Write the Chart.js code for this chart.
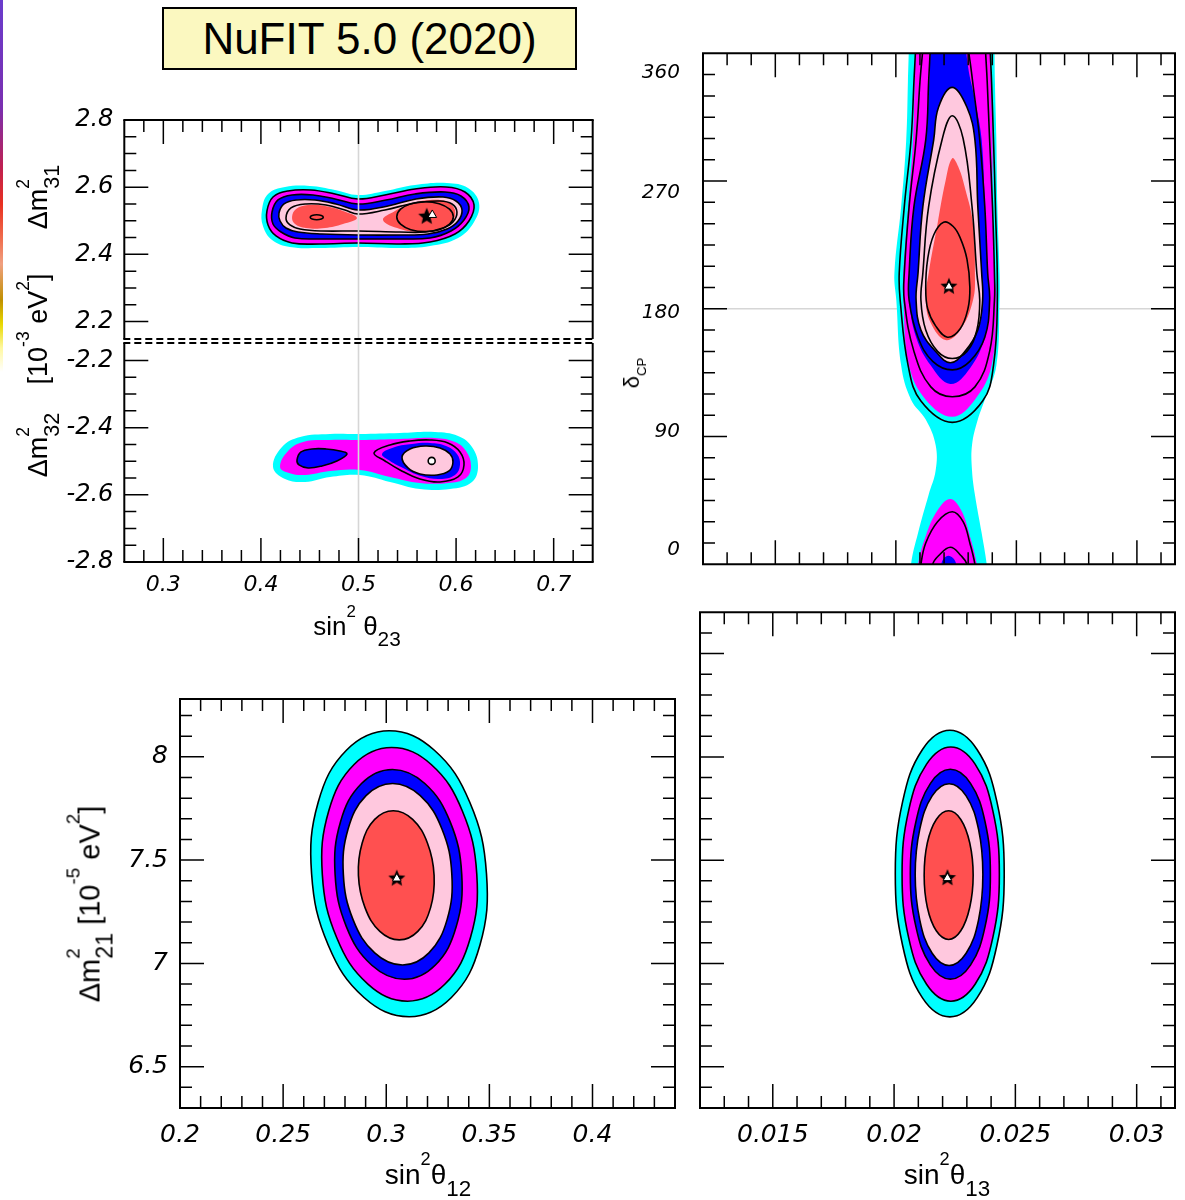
<!DOCTYPE html>
<html>
<head>
<meta charset="utf-8">
<script src="https://cdn.jsdelivr.net/npm/chart.js@4.4.1/dist/chart.umd.min.js"></script>
<style>
  html, body { margin: 0; padding: 0; background: #fff; }
  body { position: relative; width: 1185px; height: 1200px; overflow: hidden;
         font-family: "Liberation Sans", Arial, Helvetica, sans-serif; }
  canvas { position: absolute; left: 0; top: 0; }
  .strip { position: absolute; left: 0; top: 0; width: 3px; height: 1200px;
           background: linear-gradient(to bottom, #6a3ccc 0%, #7a2fb0 9%, #c02050 14%, #e83020 17%,
             #f07050 20%, #f0a080 22%, #c09000 25%, #e8d800 27%, #fff8a0 29%, #fff 31%, #fff 100%); }
  .title { position: absolute; left: 162px; top: 7px; width: 415px; height: 63px; box-sizing: border-box;
           border: 2px solid #000; background: #fbf8c0; font-size: 44px; line-height: 59px; text-align: center; }
  .lab { position: absolute; white-space: nowrap; line-height: 1; transform: translate(-50%, -50%); }
  .lab.v { transform: translate(-50%, -50%) rotate(-90deg); }
  .sp { font-size: .65em; position: relative; top: -1.05em; }
  .sb { font-size: .8em; position: relative; top: .55em; }
  .stk { margin-left: -.45em; }
</style>
</head>
<body>
<div class="strip"></div>
<div class="title">NuFIT 5.0 (2020)</div>
<canvas id="tlu" width="1185" height="1200"></canvas>
<canvas id="tll" width="1185" height="1200"></canvas>
<canvas id="tr" width="1185" height="1200"></canvas>
<canvas id="bl" width="1185" height="1200"></canvas>
<canvas id="br" width="1185" height="1200"></canvas>

<div class="lab v" style="left:38px;top:197px;font-size:27px">Δm<span class="sp">2</span><span class="sb stk">31</span></div>
<div class="lab v" style="left:38px;top:329px;font-size:27px">[10<span class="sp">-3</span> eV<span class="sp">2</span>]</div>
<div class="lab v" style="left:38px;top:445px;font-size:27px">Δm<span class="sp">2</span><span class="sb stk">32</span></div>
<div class="lab" style="left:357px;top:626px;font-size:26px">sin<span class="sp">2</span> θ<span class="sb">23</span></div>
<div class="lab v" style="left:632px;top:373px;font-size:22px">δ<span class="sb" style="font-size:.6em">CP</span></div>
<div class="lab v" style="left:90px;top:904px;font-size:29px">Δm<span class="sp">2</span><span class="sb stk">21</span> [10<span class="sp">-5</span> eV<span class="sp">2</span>]</div>
<div class="lab" style="left:428px;top:1175px;font-size:28px">sin<span class="sp">2</span>θ<span class="sb">12</span></div>
<div class="lab" style="left:947px;top:1175px;font-size:28px">sin<span class="sp">2</span>θ<span class="sb">13</span></div>

<script>
// ---------- data (contour outlines as [x, y] points) ----------

// top left, normal ordering: sin^2 theta23 vs dm2_31
const noCyan = [[0.4011,2.5321],[0.4073,2.5798],[0.4247,2.6006],[0.4503,2.6036],[0.4759,2.5917],[0.4994,2.5768],[0.5271,2.5887],[0.5579,2.6065],[0.5907,2.6125],[0.6122,2.5976],[0.6235,2.5530],[0.6184,2.4964],[0.6020,2.4488],[0.5733,2.4250],[0.5425,2.4190],[0.4994,2.4220],[0.4606,2.4190],[0.4298,2.4220],[0.4114,2.4429],[0.4021,2.4845]];
const noMagenta = [[0.4062,2.5292],[0.4124,2.5708],[0.4278,2.5887],[0.4513,2.5917],[0.4759,2.5798],[0.4994,2.5649],[0.5271,2.5768],[0.5579,2.5946],[0.5897,2.6006],[0.6091,2.5857],[0.6184,2.5470],[0.6132,2.4994],[0.5989,2.4607],[0.5733,2.4369],[0.5425,2.4310],[0.4994,2.4339],[0.4606,2.4310],[0.4319,2.4339],[0.4155,2.4548],[0.4073,2.4875]];
const noBlue = [[0.4114,2.5262],[0.4175,2.5619],[0.4319,2.5768],[0.4534,2.5768],[0.4759,2.5649],[0.4994,2.5500],[0.5282,2.5619],[0.5579,2.5798],[0.5887,2.5857],[0.6050,2.5738],[0.6132,2.5411],[0.6081,2.5024],[0.5948,2.4696],[0.5733,2.4488],[0.5425,2.4458],[0.4994,2.4458],[0.4606,2.4458],[0.4349,2.4488],[0.4206,2.4667],[0.4124,2.4905]];
const noPink = [[0.4185,2.5232],[0.4237,2.5500],[0.4360,2.5619],[0.4554,2.5619],[0.4769,2.5500],[0.4994,2.5321],[0.5302,2.5440],[0.5589,2.5649],[0.5866,2.5708],[0.5999,2.5589],[0.6061,2.5321],[0.6020,2.4994],[0.5907,2.4756],[0.5712,2.4607],[0.5425,2.4577],[0.4994,2.4577],[0.4626,2.4607],[0.4380,2.4667],[0.4257,2.4786],[0.4196,2.4994]];
const noRedLeft = [[0.4319,2.5113],[0.4360,2.5351],[0.4483,2.5470],[0.4657,2.5440],[0.4841,2.5292],[0.4984,2.5083],[0.4841,2.4905],[0.4657,2.4786],[0.4462,2.4786],[0.4349,2.4905]];
const noRedRight = [[0.5251,2.5024],[0.5374,2.5292],[0.5528,2.5500],[0.5733,2.5619],[0.5907,2.5560],[0.5989,2.5321],[0.5958,2.4964],[0.5835,2.4726],[0.5630,2.4667],[0.5425,2.4756]];
const noLineBoth = [[0.4257,2.5083],[0.4308,2.5381],[0.4462,2.5500],[0.4667,2.5470],[0.4861,2.5321],[0.4994,2.5202],[0.5271,2.5321],[0.5579,2.5530],[0.5835,2.5589],[0.5958,2.5500],[0.6009,2.5262],[0.5968,2.4964],[0.5866,2.4786],[0.5682,2.4667],[0.5425,2.4667],[0.4994,2.4696],[0.4626,2.4696],[0.4401,2.4756],[0.4298,2.4875]];
const noLineBest = [[0.5972,2.5122],[0.5933,2.5345],[0.5827,2.5509],[0.5682,2.5568],[0.5536,2.5509],[0.5431,2.5345],[0.5392,2.5122],[0.5431,2.4899],[0.5536,2.4735],[0.5682,2.4676],[0.5827,2.4735],[0.5933,2.4899]];
const noLineLocal = [[0.4639,2.5104],[0.4619,2.5156],[0.4572,2.5178],[0.4525,2.5156],[0.4505,2.5104],[0.4525,2.5052],[0.4572,2.5030],[0.4619,2.5052]];
const noBestStar = [0.5699, 2.5122];
const noBestTri = [0.5756, 2.5173];

// top left, inverted ordering: sin^2 theta23 vs dm2_32
const ioCyan = [[0.4124,-2.5171],[0.4216,-2.4575],[0.4401,-2.4277],[0.4708,-2.4188],[0.5015,-2.4188],[0.5425,-2.4159],[0.5784,-2.4129],[0.6020,-2.4248],[0.6163,-2.4575],[0.6225,-2.5141],[0.6163,-2.5617],[0.5938,-2.5826],[0.5630,-2.5826],[0.5323,-2.5617],[0.5015,-2.5409],[0.4708,-2.5468],[0.4452,-2.5617],[0.4247,-2.5528]];
const ioMagenta = [[0.4196,-2.5171],[0.4278,-2.4694],[0.4432,-2.4426],[0.4708,-2.4367],[0.5015,-2.4367],[0.5425,-2.4337],[0.5784,-2.4307],[0.5989,-2.4426],[0.6102,-2.4694],[0.6153,-2.5141],[0.6102,-2.5498],[0.5917,-2.5647],[0.5630,-2.5647],[0.5323,-2.5468],[0.5015,-2.5260],[0.4708,-2.5290],[0.4452,-2.5409],[0.4288,-2.5349]];
const ioBlueLeft = [[0.4370,-2.4962],[0.4411,-2.4724],[0.4524,-2.4635],[0.4667,-2.4635],[0.4810,-2.4694],[0.4882,-2.4784],[0.4779,-2.4992],[0.4626,-2.5141],[0.4483,-2.5200],[0.4390,-2.5111]];
const ioLineRight = [[0.5159,-2.4754],[0.5323,-2.4516],[0.5528,-2.4397],[0.5733,-2.4367],[0.5917,-2.4456],[0.6040,-2.4724],[0.6081,-2.5111],[0.6020,-2.5468],[0.5835,-2.5617],[0.5630,-2.5528],[0.5425,-2.5260],[0.5272,-2.4992]];
const ioBlueRight = [[0.5241,-2.4784],[0.5374,-2.4575],[0.5548,-2.4486],[0.5733,-2.4456],[0.5897,-2.4546],[0.6009,-2.4784],[0.6040,-2.5111],[0.5989,-2.5409],[0.5835,-2.5528],[0.5640,-2.5439],[0.5456,-2.5200],[0.5323,-2.4992]];
const ioPinkRight = [[0.5446,-2.4873],[0.5528,-2.4635],[0.5682,-2.4546],[0.5835,-2.4605],[0.5938,-2.4784],[0.5968,-2.5022],[0.5928,-2.5290],[0.5805,-2.5409],[0.5630,-2.5379],[0.5507,-2.5200]];
const ioLocalMin = [0.5750, -2.499];

// top right: sin^2 theta13 vs delta_CP (outlines continue past 0 and 360)
const dcpCyan = [[0.02055,420],[0.02409,420],[0.02409,375],[0.02411,340],[0.02417,299],[0.02421,252],[0.0243,205],[0.0243,186],[0.02417,140],[0.02369,116],[0.0234,102],[0.02316,84],[0.02316,66],[0.02328,49],[0.02356,22],[0.02377,0],[0.02385,-15],[0.02385,-60],[0.02055,-60],[0.02063,-15],[0.02063,0],[0.02092,22],[0.02136,49],[0.02165,66],[0.02165,84],[0.02124,102],[0.02063,116],[0.02022,140],[0.02002,186],[0.01994,205],[0.02022,252],[0.02043,299],[0.0205,340],[0.02055,375]];
const dcpMagentaUp = [[0.02084,420],[0.02389,420],[0.02389,375],[0.02395,340],[0.02401,299],[0.02401,252],[0.02409,205],[0.02417,186],[0.02397,140],[0.02328,116],[0.02234,104],[0.02124,116],[0.02055,140],[0.02031,186],[0.02031,205],[0.02051,252],[0.02071,299],[0.02078,340],[0.02084,375]];
const dcpMagentaLow = [[0.02226,46],[0.02271,38],[0.02307,20],[0.02336,0],[0.02345,-15],[0.02345,-60],[0.02084,-60],[0.02084,-15],[0.02092,0],[0.02124,20],[0.02173,38]];
const dcpBlueUp = [[0.02145,420],[0.02287,420],[0.02287,375],[0.023,350],[0.02328,327],[0.02356,299],[0.02369,252],[0.02381,205],[0.02389,186],[0.02369,160],[0.02307,138],[0.02226,127],[0.02145,140],[0.02084,160],[0.02055,186],[0.02055,205],[0.02075,252],[0.02124,299],[0.02136,330],[0.02145,375]];
const dcpBlueLow = [[0.02218,6],[0.0225,0],[0.02255,-60],[0.02185,-60],[0.02189,0]];
const dcpPink = [[0.02234,336],[0.02295,322],[0.02328,299],[0.0234,252],[0.02356,205],[0.0236,186],[0.0234,165],[0.02287,150],[0.02226,142],[0.02165,150],[0.02104,165],[0.02084,186],[0.02092,205],[0.02112,252],[0.02157,299],[0.02177,322]];
const dcpRed = [[0.02234,286],[0.02259,280],[0.02287,265],[0.0232,240],[0.02328,205],[0.0232,186],[0.02267,165],[0.02206,158],[0.02145,170],[0.02124,186],[0.02136,205],[0.02173,240],[0.02206,270]];
const dcpLine1 = [[0.02084,420],[0.02389,420],[0.02389,375],[0.02397,340],[0.02405,299],[0.02413,252],[0.02421,186],[0.02405,140],[0.0236,115],[0.02234,100],[0.02104,115],[0.02051,140],[0.02018,186],[0.02014,205],[0.02035,252],[0.02063,299],[0.02075,340],[0.02084,375]];
const dcpLine1Low = [[0.02234,37],[0.02279,30],[0.02307,15],[0.02328,0],[0.02336,-15],[0.02336,-60],[0.02096,-60],[0.02096,-15],[0.02104,0],[0.02124,15],[0.02173,30]];
const dcpLine2 = [[0.02116,420],[0.02369,420],[0.02369,375],[0.02379,340],[0.02389,299],[0.02401,252],[0.02409,205],[0.02409,186],[0.02389,150],[0.02328,125],[0.02234,118],[0.02145,125],[0.02075,150],[0.02035,186],[0.02035,205],[0.02055,252],[0.02084,299],[0.021,340],[0.02116,375]];
const dcpLine2Low = [[0.02226,12],[0.02271,6],[0.02295,0],[0.02307,-15],[0.02307,-60],[0.02145,-60],[0.02145,-15],[0.02153,0],[0.02177,6]];
const dcpLine3 = [[0.02145,420],[0.02295,420],[0.02295,375],[0.02315,345],[0.02348,299],[0.02369,252],[0.02381,205],[0.02389,186],[0.02369,160],[0.02307,143],[0.02234,137],[0.02153,143],[0.02092,160],[0.02055,186],[0.02055,205],[0.02075,252],[0.02124,299],[0.02136,340],[0.02145,375]];
const dcpLine5 = [[0.02234,316],[0.02279,300],[0.02316,252],[0.02336,205],[0.02348,186],[0.02336,165],[0.02295,150],[0.02234,145],[0.02173,150],[0.02124,165],[0.02104,186],[0.02112,205],[0.02136,252],[0.02193,300]];
const dcpLine6 = [[0.02198,241],[0.02238,238],[0.02267,230],[0.02295,215],[0.02307,195],[0.02299,180],[0.02267,166],[0.02214,160],[0.02165,168],[0.02132,180],[0.02124,195],[0.02132,215],[0.02157,232]];
const dcpBest = [0.0222, 195.6];

// bottom left: sin^2 theta12 vs dm2_21
const s12Cyan = [[0.3486,7.434],[0.3405,7.780],[0.3232,8.033],[0.3014,8.126],[0.2808,8.033],[0.2670,7.780],[0.2638,7.434],[0.2719,7.088],[0.2892,6.835],[0.3111,6.742],[0.3316,6.835],[0.3454,7.088]];
const s12Magenta = [[0.3439,7.431],[0.3369,7.738],[0.3218,7.963],[0.3026,8.045],[0.2844,7.963],[0.2721,7.738],[0.2690,7.431],[0.2760,7.124],[0.2911,6.900],[0.3103,6.817],[0.3285,6.900],[0.3408,7.124]];
const s12Blue = [[0.3366,7.431],[0.3310,7.685],[0.3187,7.871],[0.3030,7.939],[0.2880,7.871],[0.2778,7.685],[0.2752,7.431],[0.2807,7.177],[0.2930,6.991],[0.3088,6.923],[0.3237,6.991],[0.3339,7.177]];
const s12Pink = [[0.3318,7.431],[0.3270,7.651],[0.3165,7.812],[0.3031,7.871],[0.2902,7.812],[0.2815,7.651],[0.2792,7.431],[0.2839,7.212],[0.2944,7.051],[0.3079,6.992],[0.3207,7.051],[0.3295,7.212]];
const s12Red = [[0.3232,7.426],[0.3200,7.582],[0.3128,7.697],[0.3034,7.739],[0.2944,7.697],[0.2883,7.582],[0.2865,7.426],[0.2897,7.270],[0.2969,7.155],[0.3063,7.114],[0.3153,7.155],[0.3215,7.270]];
const s12Best = [0.3051, 7.411];

// bottom right: sin^2 theta13 vs dm2_21
const s13Cyan = [[0.02454,7.435],[0.02424,7.782],[0.02342,8.036],[0.0223,8.129],[0.02117,8.036],[0.02035,7.782],[0.02005,7.435],[0.02035,7.088],[0.02117,6.833],[0.0223,6.741],[0.02342,6.833],[0.02424,7.088]];
const s13Magenta = [[0.02434,7.432],[0.02407,7.740],[0.02334,7.965],[0.02234,8.048],[0.02134,7.965],[0.0206,7.740],[0.02033,7.432],[0.0206,7.125],[0.02134,6.899],[0.02234,6.817],[0.02334,6.899],[0.02407,7.125]];
const s13Blue = [[0.02397,7.432],[0.02375,7.686],[0.02315,7.872],[0.02232,7.940],[0.0215,7.872],[0.0209,7.686],[0.02067,7.432],[0.0209,7.178],[0.0215,6.992],[0.02232,6.924],[0.02315,6.992],[0.02375,7.178]];
const s13Pink = [[0.02366,7.430],[0.02348,7.650],[0.02297,7.811],[0.02227,7.870],[0.02157,7.811],[0.02106,7.650],[0.02087,7.430],[0.02106,7.210],[0.02157,7.049],[0.02227,6.990],[0.02297,7.049],[0.02348,7.210]];
const s13Red = [[0.02326,7.427],[0.02312,7.583],[0.02275,7.697],[0.02225,7.739],[0.02174,7.697],[0.02137,7.583],[0.02124,7.427],[0.02137,7.272],[0.02174,7.158],[0.02225,7.116],[0.02275,7.158],[0.02312,7.272]];
const s13Best = [0.0222, 7.413];

// reference values and tick labels
const refSin23 = 0.5;
const refDelta = 180;
const t23Ticks = [0.3, 0.4, 0.5, 0.6, 0.7];
const t23Labels = ['0.3', '0.4', '0.5', '0.6', '0.7'];
const dm31Ticks = [2.2, 2.4, 2.6, 2.8];
const dm31Labels = ['2.2', '2.4', '2.6', '2.8'];
const dm32Ticks = [-2.2, -2.4, -2.6, -2.8];
const dm32Labels = ['-2.2', '-2.4', '-2.6', '-2.8'];
const dcpLabels = ['0', '90', '180', '270', '360'];
const t12Ticks = [0.2, 0.25, 0.3, 0.35, 0.4];
const t12Labels = ['0.2', '0.25', '0.3', '0.35', '0.4'];
const t13Ticks = [0.015, 0.02, 0.025, 0.03];
const t13Labels = ['0.015', '0.02', '0.025', '0.03'];
const dm21Ticks = [6.5, 7, 7.5, 8];
const dm21Labels = ['6.5', '7', '7.5', '8'];

// ---------- drawing ----------
const CYAN = '#00ffff', MAGENTA = '#ff00ff', BLUE = '#0000ff', PINK = '#ffc8de', RED = '#ff5050';
const W = 1185, H = 1200, AX_W = 70, AX_H = 45;
const TICK_FONT = '"DejaVu Sans", Verdana, sans-serif';

Chart.defaults.font.family = '"Liberation Sans", Arial, Helvetica, sans-serif';
Chart.defaults.color = '#000';

function starImage(r) {
  const c = document.createElement('canvas');
  c.width = c.height = 2 * r + 2;
  const g = c.getContext('2d');
  g.translate(r + 1, r + 1);
  g.beginPath();
  for (let i = 0; i < 10; i++) {
    const rad = i % 2 ? r * 0.45 : r;
    const a = -Math.PI / 2 + i * Math.PI / 5;
    g.lineTo(rad * Math.cos(a), rad * Math.sin(a));
  }
  g.closePath();
  g.fillStyle = '#000';
  g.fill();
  return c;
}
const STAR = starImage(9);

const P = a => a.map(([x, y]) => ({x, y}));
const fillSet = (a, c, order, edge) => ({data: P(a), closed: true, showLine: true, fill: 'shape',
  backgroundColor: c, borderColor: '#000', borderWidth: edge ? 1.6 : 0, pointRadius: 0, tension: 0.4, order});
const lineSet = a => ({data: P(a), closed: true, showLine: true, fill: false,
  borderColor: '#000', borderWidth: 1.6, pointRadius: 0, tension: 0.4, order: 3});
const refSet = (pts, order) => ({data: pts, showLine: true, fill: false, borderColor: '#d6d6d6', borderWidth: 1.6,
  pointRadius: 0, order});
const starSet = p => ({data: P([p]), pointStyle: STAR, pointRadius: 9, order: 1});
const triSet = p => ({data: P([p]), pointStyle: 'triangle', pointRadius: 5, backgroundColor: '#fff',
  borderColor: '#000', borderWidth: 1, order: 0});
const dotSet = p => ({data: P([p]), pointStyle: 'circle', pointRadius: 3.5, backgroundColor: '#fff',
  borderColor: '#000', borderWidth: 1.6, order: 0});

// close the outline of contour datasets so the curve runs smoothly through the start point
const closeLoops = {
  id: 'closeLoops',
  afterDatasetsUpdate(chart) {
    chart.data.datasets.forEach((ds, i) => {
      const line = chart.getDatasetMeta(i).dataset;
      if (!ds.closed || !line) return;
      line._loop = true;
      line._fullLoop = true;
      delete line._segments;
      delete line._path;
      line._pointsUpdated = false;
    });
  }
};

// box with inward ticks on the chosen sides
const framePlugin = {
  id: 'frame',
  afterDatasetsDraw(chart, args, o) {
    const {ctx, chartArea: a} = chart;
    const sides = o.tickSides;
    ctx.save();
    ctx.strokeStyle = '#000';
    ctx.lineWidth = 1.5;
    const run = (scale, [minor, major]) => {
      const horiz = scale.axis === 'x';
      for (let k = Math.ceil(scale.min / minor - 1e-6); k * minor <= scale.max + minor * 1e-6; k++) {
        const v = k * minor;
        const p = scale.getPixelForValue(v);
        if (horiz ? (p < a.left + 3 || p > a.right - 3) : (p < a.top + 3 || p > a.bottom - 3)) continue;
        const r = v / major;
        const len = Math.abs(r - Math.round(r)) < 1e-6 ? 24 : 12;
        ctx.beginPath();
        if (horiz) {
          if (sides.includes('bottom')) { ctx.moveTo(p, a.bottom); ctx.lineTo(p, a.bottom - len); }
          if (sides.includes('top')) { ctx.moveTo(p, a.top); ctx.lineTo(p, a.top + len); }
        } else {
          if (sides.includes('left')) { ctx.moveTo(a.left, p); ctx.lineTo(a.left + len, p); }
          if (sides.includes('right')) { ctx.moveTo(a.right, p); ctx.lineTo(a.right - len, p); }
        }
        ctx.stroke();
      }
    };
    run(chart.scales.x, o.x);
    run(chart.scales.y, o.y);
    ctx.lineWidth = 2;
    const edge = (name, x1, y1, x2, y2) => {
      ctx.setLineDash((o.dashed || []).includes(name) ? [7, 4] : []);
      ctx.beginPath(); ctx.moveTo(x1, y1); ctx.lineTo(x2, y2); ctx.stroke();
    };
    edge('top', a.left - 1, a.top, a.right + 1, a.top);
    edge('bottom', a.left - 1, a.bottom, a.right + 1, a.bottom);
    edge('left', a.left, a.top, a.left, a.bottom);
    edge('right', a.right, a.top, a.right, a.bottom);
    ctx.restore();
  }
};

function axisCfg(ax, range, t) {
  t = t || {};
  const show = !!t.values;
  return {
    type: 'linear', min: range[0], max: range[1],
    grid: {display: false, drawTicks: false},
    border: {display: false},
    ticks: {display: show, autoSkip: false, maxRotation: 0, padding: t.pad || 8,
      font: {family: TICK_FONT, size: t.size || 23, style: 'italic'}, color: '#000',
      callback: (v, i) => show ? t.labels[i] : ''},
    afterBuildTicks: s => { if (show) s.ticks = t.values.map(v => ({value: v})); },
    afterFit: s => { if (ax === 'x') s.height = AX_H; else s.width = AX_W; }
  };
}

function panel(id, area, xr, yr, o) {
  return new Chart(document.getElementById(id), {
    type: 'scatter',
    data: {datasets: o.datasets},
    options: {
      responsive: false, animation: false, events: [], devicePixelRatio: 1,
      layout: {padding: {left: area.l - AX_W, top: area.t, right: W - area.r, bottom: H - area.b - AX_H}},
      plugins: {legend: {display: false}, tooltip: {enabled: false}, frame: o.frame},
      elements: {line: {capBezierPoints: false}},
      scales: {x: axisCfg('x', xr, o.xt), y: axisCfg('y', yr, o.yt)}
    },
    plugins: [closeLoops, framePlugin]
  });
}

const t23Range = [0.26, 0.74];
const t13Range = [0.012, 0.03158];

panel('tlu', {l: 124.3, t: 120, r: 592.7, b: 339}, t23Range, [2.148, 2.8], {
  datasets: [
    fillSet(noCyan, CYAN, 10), fillSet(noMagenta, MAGENTA, 9, true), fillSet(noBlue, BLUE, 8, true),
    fillSet(noPink, PINK, 7, true), fillSet(noRedLeft, RED, 6), fillSet(noRedRight, RED, 6),
    lineSet(noLineBoth), lineSet(noLineBest), lineSet(noLineLocal),
    refSet([{x: refSin23, y: 2.148}, {x: refSin23, y: 2.8}], 2),
    starSet(noBestStar), triSet(noBestTri)
  ],
  yt: {values: dm31Ticks, labels: dm31Labels, size: 24, pad: 11},
  frame: {x: [0.02, 0.1], y: [0.05, 0.2], tickSides: ['top', 'left', 'right'], dashed: ['bottom']}
});

panel('tll', {l: 124.3, t: 343, r: 592.7, b: 562}, t23Range, [-2.8, -2.148], {
  datasets: [
    fillSet(ioCyan, CYAN, 10), fillSet(ioMagenta, MAGENTA, 9), fillSet(ioBlueLeft, BLUE, 8, true),
    fillSet(ioBlueRight, BLUE, 8), lineSet(ioLineRight), fillSet(ioPinkRight, PINK, 7, true),
    refSet([{x: refSin23, y: -2.8}, {x: refSin23, y: -2.148}], 2),
    dotSet(ioLocalMin)
  ],
  xt: {values: t23Ticks, labels: t23Labels, size: 22, pad: 10},
  yt: {values: dm32Ticks, labels: dm32Labels, size: 24, pad: 11},
  frame: {x: [0.02, 0.1], y: [0.05, 0.2], tickSides: ['bottom', 'left', 'right'], dashed: ['top']}
});

panel('tr', {l: 703, t: 53.3, r: 1184, b: 564.3}, t13Range, [0, 360], {
  datasets: [
    fillSet(dcpCyan, CYAN, 10), fillSet(dcpMagentaUp, MAGENTA, 9), fillSet(dcpMagentaLow, MAGENTA, 9),
    fillSet(dcpBlueUp, BLUE, 8), fillSet(dcpBlueLow, BLUE, 8), fillSet(dcpPink, PINK, 7, true),
    fillSet(dcpRed, RED, 6),
    lineSet(dcpLine1), lineSet(dcpLine1Low), lineSet(dcpLine2), lineSet(dcpLine2Low),
    lineSet(dcpLine3), lineSet(dcpLine5), lineSet(dcpLine6),
    refSet([{x: t13Range[0], y: refDelta}, {x: t13Range[1], y: refDelta}], 20),
    starSet(dcpBest), triSet(dcpBest)
  ],
  yt: {values: [10, 93.5, 177.5, 261.5, 346], labels: dcpLabels, size: 20, pad: 23},
  frame: {x: [0.001, 0.005], y: [15, 90], tickSides: ['top', 'bottom', 'left', 'right']}
});

panel('bl', {l: 180, t: 699, r: 675, b: 1108}, [0.2, 0.44], [6.3, 8.28], {
  datasets: [
    fillSet(s12Cyan, CYAN, 10, true), fillSet(s12Magenta, MAGENTA, 9, true), fillSet(s12Blue, BLUE, 8, true),
    fillSet(s12Pink, PINK, 7, true), fillSet(s12Red, RED, 6, true),
    starSet(s12Best), triSet(s12Best)
  ],
  xt: {values: t12Ticks, labels: t12Labels, size: 25, pad: 12},
  yt: {values: dm21Ticks, labels: dm21Labels, size: 25, pad: 12},
  frame: {x: [0.01, 0.05], y: [0.1, 0.5], tickSides: ['top', 'bottom', 'left', 'right']}
});

panel('br', {l: 700, t: 612.3, r: 1184, b: 1108}, t13Range, [6.3, 8.7], {
  datasets: [
    fillSet(s13Cyan, CYAN, 10, true), fillSet(s13Magenta, MAGENTA, 9, true), fillSet(s13Blue, BLUE, 8, true),
    fillSet(s13Pink, PINK, 7, true), fillSet(s13Red, RED, 6, true),
    starSet(s13Best), triSet(s13Best)
  ],
  xt: {values: t13Ticks, labels: t13Labels, size: 25, pad: 12},
  frame: {x: [0.001, 0.005], y: [0.1, 0.5], tickSides: ['top', 'bottom', 'left', 'right']}
});
</script>
</body>
</html>
